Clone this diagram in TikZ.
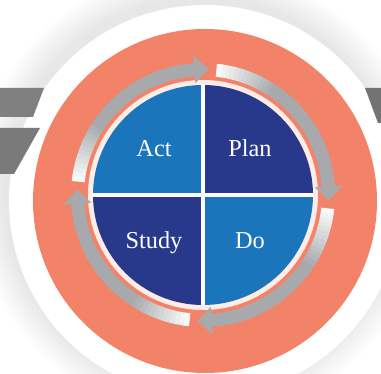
\documentclass[tikz,border=0pt]{standalone}
\usepackage{fontspec}
\setmainfont{Liberation Serif}
\definecolor{lightblu}{HTML}{1A75BB}
\definecolor{darkblu}{HTML}{28398C}
\definecolor{orangebg}{HTML}{F38368}
\definecolor{arrowgray}{HTML}{A7A9AC}
\definecolor{bargray}{HTML}{808080}
\tikzset{
  label text/.style={text=white, font=\fontsize{24.3bp}{28bp}\selectfont, anchor=base, inner sep=0pt},
}
\newcommand\pdcaarrow[1]{%
  \foreach \k in {0,...,39}{%
    \pgfmathsetmacro\aa{#1+6+\k*2}%
    \pgfmathsetmacro\bb{\aa+2.4}%
    \pgfmathsetmacro\mm{min(100,max(6,100*(40-\k)/14))}%
    \fill[arrowgray!\mm!white] ([shift={(C)}]\aa:119) arc[start angle=\aa,end angle=\bb,radius=119]
      -- ([shift={(C)}]\bb:132) arc[start angle=\bb,end angle=\aa,radius=132] -- cycle;
  }%
  \fill[arrowgray] ([shift={(C)}]#1:126) -- ([shift={(C)}]#1+6.5:140) -- ([shift={(C)}]#1+6.5:112) -- cycle;
}
\begin{document}
\begin{tikzpicture}[x=1bp,y=1bp]
\clip (0,0) rectangle (381,374);
\fill[white] (0,0) rectangle (381,374);
\coordinate (O) at (205,173);
\coordinate (C) at (203,179);
% soft shadow around the white disc
\foreach \r in {198,202,...,226}{
  \fill[black, opacity=0.012] (201,180) circle[radius=\r];
}
% white disc
\fill[white] (O) circle[radius=196];
% gray bars
\fill[bargray] (0,286) -- (44,286) -- (33,257) -- (0,257) -- cycle;
\fill[bargray!95!black] (0,246) -- (40,246) -- (14,200) -- (0,200) -- cycle;
\fill[bargray!90!black] (365,286) -- (381,286) -- (381,251) -- (378,251) -- cycle;
% orange disc
\fill[orangebg] (O) circle[radius=172];
% white fringe
\fill[white, opacity=0.85] (C) circle[radius=115];
% arrows
\pdcaarrow{87.5}
\pdcaarrow{-2.5}
\pdcaarrow{-92.5}
\pdcaarrow{177.5}
% quadrants
\fill[lightblu] (C) -- ([shift={(C)}]90:110) arc[start angle=90,end angle=180,radius=110] -- cycle;
\fill[darkblu] (C) -- ([shift={(C)}]0:110) arc[start angle=0,end angle=90,radius=110] -- cycle;
\fill[darkblu] (C) -- ([shift={(C)}]180:110) arc[start angle=180,end angle=270,radius=110] -- cycle;
\fill[lightblu] (C) -- ([shift={(C)}]270:110) arc[start angle=270,end angle=360,radius=110] -- cycle;
\draw[white, line width=3.5bp] ([shift={(C)}]90:111) -- ([shift={(C)}]270:111);
\draw[white, line width=3.5bp] ([shift={(C)}]180:111) -- ([shift={(C)}]0:111);
% labels
\node[label text] (act) at (154,218) {Act};
\node[label text] (plan) at (250,218) {Plan};
\node[label text] (study) at (154,126) {Study};
\node[label text] (do) at (250,126) {Do};
\end{tikzpicture}
\end{document}
